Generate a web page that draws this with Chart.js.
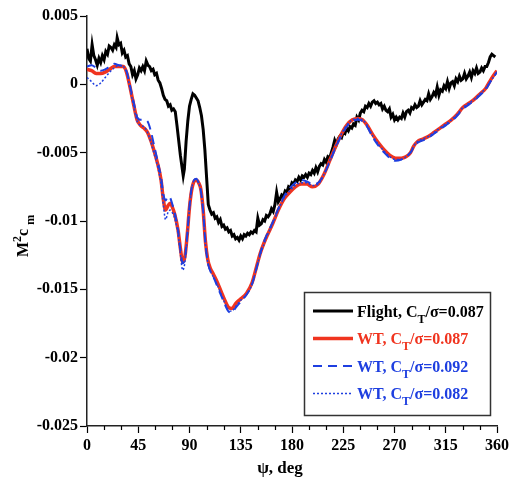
<!DOCTYPE html>
<html>
<head>
<meta charset="utf-8">
<script src="https://cdn.jsdelivr.net/npm/chart.js@4.4.1/dist/chart.umd.min.js"></script>
<style>
  html, body { margin: 0; padding: 0; background: #fff; }
  #wrap { width: 516px; height: 481px; }
</style>
</head>
<body>
<div id="wrap"><canvas id="momentChart" width="516" height="481"></canvas></div>
<script>
// Flight test, azimuth (deg) and M^2 c_m
const psiFlight = [
  0, 1.5, 3, 4.5, 6, 7.5, 9, 10.5, 12, 13.5, 15, 16.5, 18, 19.5, 21, 22.5, 24, 25.5, 26.5, 28,
  29.5, 31, 32.5, 34, 35.5, 37, 38.5, 40, 41.5, 43, 44.5, 46, 47.5, 49, 50.5, 52, 53.5, 55, 56.5, 58,
  59.5, 61, 62.5, 64, 65.5, 67, 68.5, 70, 71.5, 73, 74.5, 76, 77.5, 79, 80.5, 82, 83, 84.5, 85.5, 87,
  88.5, 90, 91.5, 93, 94.5, 96, 97.5, 99, 100.5, 102, 103.5, 105, 106.5, 108, 109.5, 111, 112.5, 114, 115.5, 117,
  118.5, 120, 121.5, 123, 124.5, 126, 127.5, 129, 130.5, 132, 133.5, 135, 136.5, 138, 139.5, 141, 142.5, 144, 145.5, 147,
  148.5, 150, 151.5, 153, 154.5, 156, 157.5, 159, 160.5, 162, 163.5, 165, 166.5, 168, 169.5, 171, 172.5, 174, 175.5, 177,
  178.5, 180, 181.5, 183, 184.5, 186, 187.5, 189, 190.5, 192, 193.5, 195, 196.5, 198, 199.5, 201, 202.5, 204, 205.5, 207,
  208.5, 210, 211.5, 213, 214.5, 216, 217.5, 219, 220.5, 222, 223.5, 225, 226.5, 228, 229.5, 231, 232.5, 234, 235.5, 237,
  238.5, 240, 241.5, 243, 244.5, 246, 247.5, 249, 250.5, 252, 253.5, 255, 256.5, 258, 259.5, 261, 262.5, 264, 265.5, 267,
  268.5, 270, 271.5, 273, 274.5, 276, 277.5, 279, 280.5, 282, 283.5, 285, 286.5, 288, 289.5, 291, 292.5, 294, 295.5, 297,
  298.5, 300, 301.5, 303, 304.5, 306, 307.5, 309, 310.5, 312, 313.5, 315, 316.5, 318, 319.5, 321, 322.5, 324, 325.5, 327,
  328.5, 330, 331.5, 333, 334.5, 336, 337.5, 339, 340.5, 342, 343.5, 345, 346.5, 348, 349.5, 351, 352.5, 354, 355.5, 357, 358.5
];
const cmFlight = [
  0.0026, 0.0019, 0.0017, 0.0029, 0.0021, 0.0018, 0.0014, 0.0019, 0.0016, 0.0021, 0.0018, 0.0024, 0.0022, 0.0028, 0.0027, 0.0025, 0.0029, 0.0027, 0.0034, 0.0029,
  0.0030, 0.0023, 0.0025, 0.0020, 0.0021, 0.0015, 0.0013, 0.0007, 0.0010, 0.0004, 0.0007, 0.0012, 0.0010, 0.0013, 0.0010, 0.0017, 0.0014, 0.0013, 0.0010, 0.0011,
  0.0007, 0.0008, 0.0003, 0.0001, -0.0003, -0.0008, -0.0011, -0.0012, -0.0016, -0.0015, -0.0019, -0.0018, -0.0020, -0.0030, -0.0041, -0.0052, -0.0058, -0.0067, -0.0062, -0.0042,
  -0.0027, -0.0016, -0.0011, -0.0007, -0.0008, -0.0010, -0.0012, -0.0017, -0.0023, -0.0033, -0.0048, -0.0068, -0.0088, -0.0092, -0.0095, -0.0094, -0.0098, -0.0097, -0.0101, -0.0099,
  -0.0104, -0.0103, -0.0106, -0.0105, -0.0108, -0.0107, -0.0111, -0.0110, -0.0113, -0.0112, -0.0114, -0.0111, -0.0113, -0.0110, -0.0111, -0.0109, -0.0110, -0.0108, -0.0109, -0.0107,
  -0.0108, -0.0098, -0.0103, -0.0102, -0.0099, -0.0100, -0.0096, -0.0097, -0.0095, -0.0091, -0.0093, -0.0088, -0.0079, -0.0086, -0.0084, -0.0081, -0.0082, -0.0078, -0.0079, -0.0075,
  -0.0076, -0.0072, -0.0073, -0.0070, -0.0071, -0.0068, -0.0070, -0.0067, -0.0068, -0.0066, -0.0068, -0.0065, -0.0066, -0.0063, -0.0065, -0.0061, -0.0064, -0.0060, -0.0058, -0.0059,
  -0.0055, -0.0057, -0.0053, -0.0054, -0.0050, -0.0046, -0.0041, -0.0044, -0.0040, -0.0038, -0.0039, -0.0035, -0.0036, -0.0032, -0.0034, -0.0031, -0.0032, -0.0029, -0.0030, -0.0024,
  -0.0026, -0.0021, -0.0019, -0.0020, -0.0016, -0.0017, -0.0014, -0.0016, -0.0013, -0.0012, -0.0014, -0.0013, -0.0015, -0.0014, -0.0018, -0.0016, -0.0019, -0.0020, -0.0018, -0.0024,
  -0.0022, -0.0026, -0.0024, -0.0026, -0.0024, -0.0025, -0.0021, -0.0024, -0.0020, -0.0019, -0.0021, -0.0017, -0.0018, -0.0015, -0.0017, -0.0016, -0.0012, -0.0015, -0.0013, -0.0011,
  -0.0012, -0.0007, -0.0011, -0.0009, -0.0006, -0.0008, -0.0002, -0.0008, -0.0004, -0.0005, -0.0001, -0.0003, 0.0002, -0.0003, 0.0001, 0.0002, -0.0001, 0.0004, 0.0002, 0.0006,
  0.0003, 0.0004, 0.0008, 0.0004, 0.0006, 0.0009, 0.0005, 0.0010, 0.0008, 0.0012, 0.0008, 0.0009, 0.0012, 0.0010, 0.0013, 0.0013, 0.0016, 0.0020, 0.0022, 0.0021, 0.0020
];

// Wind tunnel runs share one azimuth grid
const psiWT = [
  0, 4, 8, 12, 16, 20, 24, 28, 32, 35, 38, 41, 44, 47, 50, 53, 56, 59, 62, 65,
  67, 69, 71, 73, 75, 77, 80, 82, 84, 86, 88, 90, 92, 94, 96, 98, 100, 102, 104, 106,
  108, 111, 114, 118, 121, 124, 127, 131, 135, 140, 145, 149, 152, 155, 158, 163, 168, 173, 178, 183,
  188, 193, 198, 203, 208, 213, 218, 223, 228, 233, 238, 242, 246, 251, 256, 261, 266, 271, 276, 280,
  284, 287, 290, 295, 300, 305, 310, 315, 320, 325, 330, 335, 340, 345, 350, 355, 360
];
const cmWT087 = [
  0.0011, 0.0010, 0.0008, 0.0008, 0.0009, 0.0011, 0.0013, 0.0013, 0.0013, 0.0008, -0.0003, -0.0015, -0.0026, -0.0030, -0.0032, -0.0035, -0.0041, -0.0049, -0.0058, -0.0070,
  -0.0084, -0.0092, -0.0089, -0.0087, -0.0090, -0.0095, -0.0107, -0.0120, -0.0130, -0.0126, -0.0110, -0.0090, -0.0077, -0.0071, -0.0070, -0.0072, -0.0077, -0.0092, -0.0115, -0.0128,
  -0.0134, -0.0139, -0.0144, -0.0152, -0.0158, -0.0163, -0.0164, -0.0160, -0.0157, -0.0153, -0.0145, -0.0133, -0.0124, -0.0117, -0.0111, -0.0102, -0.0092, -0.0084, -0.0079, -0.0075,
  -0.0073, -0.0073, -0.0075, -0.0073, -0.0066, -0.0056, -0.0046, -0.0037, -0.0030, -0.0026, -0.0025, -0.0026, -0.0030, -0.0037, -0.0043, -0.0048, -0.0052, -0.0054, -0.0054, -0.0053,
  -0.0050, -0.0045, -0.0042, -0.0040, -0.0038, -0.0035, -0.0032, -0.0029, -0.0026, -0.0022, -0.0017, -0.0014, -0.0011, -0.0007, -0.0003, 0.0004, 0.0010
];
const cmWT092 = [
  0.0013, 0.0014, 0.0012, 0.0010, 0.0011, 0.0013, 0.0015, 0.0014, 0.0013, 0.0009, -0.0002, -0.0013, -0.0024, -0.0026, -0.0026, -0.0027, -0.0034, -0.0045, -0.0056, -0.0068,
  -0.0080, -0.0085, -0.0082, -0.0083, -0.0088, -0.0094, -0.0107, -0.0121, -0.0131, -0.0127, -0.0110, -0.0089, -0.0075, -0.0070, -0.0069, -0.0072, -0.0078, -0.0093, -0.0116, -0.0130,
  -0.0136, -0.0141, -0.0147, -0.0155, -0.0161, -0.0166, -0.0167, -0.0163, -0.0159, -0.0154, -0.0146, -0.0134, -0.0124, -0.0116, -0.0110, -0.0101, -0.0091, -0.0082, -0.0076, -0.0072,
  -0.0070, -0.0071, -0.0073, -0.0072, -0.0066, -0.0057, -0.0047, -0.0038, -0.0031, -0.0027, -0.0026, -0.0027, -0.0031, -0.0039, -0.0045, -0.0050, -0.0054, -0.0056, -0.0055, -0.0053,
  -0.0050, -0.0046, -0.0043, -0.0041, -0.0039, -0.0036, -0.0033, -0.0030, -0.0027, -0.0023, -0.0018, -0.0015, -0.0012, -0.0008, -0.0004, 0.0003, 0.0009
];
const cmWT082 = [
  0.0005, 0.0002, -0.0001, 0.0001, 0.0005, 0.0009, 0.0012, 0.0014, 0.0013, 0.0008, -0.0004, -0.0016, -0.0027, -0.0030, -0.0031, -0.0035, -0.0042, -0.0051, -0.0060, -0.0073,
  -0.0088, -0.0099, -0.0094, -0.0092, -0.0094, -0.0098, -0.0110, -0.0124, -0.0136, -0.0130, -0.0112, -0.0091, -0.0076, -0.0070, -0.0069, -0.0072, -0.0078, -0.0093, -0.0117, -0.0130,
  -0.0136, -0.0141, -0.0146, -0.0154, -0.0160, -0.0165, -0.0166, -0.0162, -0.0158, -0.0154, -0.0146, -0.0134, -0.0125, -0.0118, -0.0111, -0.0102, -0.0092, -0.0083, -0.0078, -0.0074,
  -0.0072, -0.0072, -0.0074, -0.0073, -0.0066, -0.0056, -0.0046, -0.0037, -0.0030, -0.0026, -0.0025, -0.0026, -0.0030, -0.0038, -0.0044, -0.0049, -0.0053, -0.0055, -0.0055, -0.0053,
  -0.0050, -0.0045, -0.0042, -0.0040, -0.0038, -0.0035, -0.0032, -0.0029, -0.0026, -0.0022, -0.0017, -0.0014, -0.0011, -0.0007, -0.0003, 0.0003, 0.0009
];

const seriesNames = ['Flight', 'WT', 'WT', 'WT'];
const thrustRatios = ['0.087', '0.087', '0.092', '0.082'];
const xTicks = [0, 45, 90, 135, 180, 225, 270, 315, 360];
const yTicks = [0.005, 0, -0.005, -0.01, -0.015, -0.02, -0.025];

const BLACK = '#000000';
const RED = '#f0341f';
const BLUE = '#1e3fe0';
const SERIF = '"Liberation Serif", "Times New Roman", serif';

function toPoints(xs, ys) {
  return xs.map((x, i) => ({ x: x, y: ys[i] }));
}

const styles = [
  { color: BLACK, text: BLACK, width: 3, dash: [], order: 4 },
  { color: RED, text: RED, width: 3.5, dash: [], order: 3 },
  { color: BLUE, text: BLUE, width: 2, dash: [9, 6], order: 2 },
  { color: BLUE, text: BLUE, width: 1.5, dash: [2, 2], order: 1 }
];
const seriesData = [
  toPoints(psiFlight, cmFlight),
  toPoints(psiWT, cmWT087),
  toPoints(psiWT, cmWT092),
  toPoints(psiWT, cmWT082)
];

const datasets = seriesData.map((pts, i) => ({
  label: seriesNames[i] + ', CT/σ=' + thrustRatios[i],
  data: pts,
  borderColor: styles[i].color,
  borderWidth: styles[i].width,
  borderDash: styles[i].dash,
  order: styles[i].order,
  pointRadius: 0,
  fill: false,
  tension: i === 0 ? 0 : 0.4,
  cubicInterpolationMode: i === 0 ? 'default' : 'monotone'
}));

// text with a lowered/raised small part, e.g. C_T or M^2
function drawRich(ctx, parts, x, y, size) {
  let cx = x;
  parts.forEach(p => {
    const s = p.sub || p.sup ? Math.round(size * 0.72) : size;
    ctx.font = 'bold ' + s + 'px ' + SERIF;
    const dy = p.sub ? size * 0.38 : (p.sup ? -size * 0.42 : 0);
    ctx.fillText(p.t, cx, y + dy);
    cx += ctx.measureText(p.t).width;
  });
  return cx;
}

const decorations = {
  id: 'decorations',
  afterDraw(chart) {
    const ctx = chart.ctx;
    const xs = chart.scales.x;
    const area = chart.chartArea;

    ctx.save();
    // minor ticks on the azimuth axis
    ctx.strokeStyle = '#000';
    ctx.lineWidth = 1.2;
    for (let v = 15; v < 360; v += 15) {
      if (v % 45 === 0) continue;
      const px = Math.round(xs.getPixelForValue(v)) + 0.5;
      ctx.beginPath();
      ctx.moveTo(px, area.bottom);
      ctx.lineTo(px, area.bottom + 4);
      ctx.stroke();
    }

    // axis titles
    ctx.fillStyle = '#000';
    ctx.textBaseline = 'alphabetic';
    ctx.font = 'bold 17px ' + SERIF;
    ctx.textAlign = 'center';
    ctx.fillText('ψ, deg', 280, 473);

    ctx.save();
    ctx.translate(28, 257);
    ctx.rotate(-Math.PI / 2);
    ctx.textAlign = 'left';
    drawRich(ctx, [{ t: 'M' }, { t: '2', sup: true }, { t: 'c' }, { t: ' ' }, { t: 'm', sub: true }], 0, 0, 16);
    ctx.restore();

    // legend box
    const bx = 304, by = 292, bw = 186, bh = 123;
    ctx.fillStyle = '#fff';
    ctx.fillRect(bx, by, bw, bh);
    ctx.strokeStyle = '#333';
    ctx.lineWidth = 1.5;
    ctx.strokeRect(bx + 0.5, by + 0.5, bw, bh);

    ctx.textAlign = 'left';
    for (let i = 0; i < 4; i++) {
      const rowY = 311 + i * 27.5;
      ctx.strokeStyle = styles[i].color;
      ctx.lineWidth = styles[i].width;
      ctx.setLineDash(styles[i].dash);
      ctx.beginPath();
      ctx.moveTo(313, rowY);
      ctx.lineTo(353, rowY);
      ctx.stroke();
      ctx.setLineDash([]);

      ctx.fillStyle = styles[i].text;
      drawRich(ctx, [
        { t: seriesNames[i] + ', C' },
        { t: 'T', sub: true },
        { t: '/σ=' + thrustRatios[i] }
      ], 357, rowY + 5.5, 16);
    }
    ctx.restore();
  }
};

const tickFont = { family: SERIF, size: 16, weight: 'bold' };

new Chart(document.getElementById('momentChart'), {
  type: 'line',
  data: { datasets: datasets },
  options: {
    responsive: false,
    animation: false,
    devicePixelRatio: 1,
    layout: { padding: { top: 16, right: 19, left: 0, bottom: 0 } },
    plugins: { legend: { display: false }, tooltip: { enabled: false } },
    scales: {
      x: {
        type: 'linear',
        min: 0,
        max: 360,
        afterBuildTicks: s => { s.ticks = xTicks.map(v => ({ value: v })); },
        afterFit: s => { s.height = 55; },
        ticks: { font: tickFont, color: '#000', padding: 3, maxRotation: 0, autoSkip: false },
        grid: { drawOnChartArea: false, tickLength: 7, tickColor: '#000', tickWidth: 1.2 },
        border: { color: '#222', width: 1.5 }
      },
      y: {
        type: 'linear',
        min: -0.025,
        max: 0.005,
        afterBuildTicks: s => { s.ticks = yTicks.map(v => ({ value: v })); },
        afterFit: s => { s.width = 87; },
        ticks: {
          font: tickFont,
          color: '#000',
          padding: 2,
          callback: v => String(parseFloat(Number(v).toFixed(3)))
        },
        grid: { drawOnChartArea: false, tickLength: 7, tickColor: '#000', tickWidth: 1.2 },
        border: { color: '#222', width: 1.5 }
      }
    }
  },
  plugins: [decorations]
});
</script>
</body>
</html>
